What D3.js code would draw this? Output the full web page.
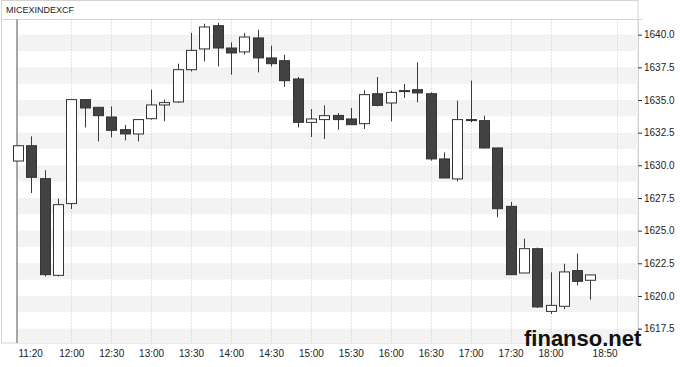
<!DOCTYPE html>
<html>
<head>
<meta charset="utf-8">
<script src="https://cdn.jsdelivr.net/npm/d3@7"></script>
<style>
  body { margin: 0; background: #fff; }
  text { font-family: "Liberation Sans", Arial, sans-serif; }
</style>
</head>
<body>
<div id="chart"></div>
<script>
// 10-minute candles, MICEXINDEXCF
let times = ["11:20","11:30","11:40","11:50","12:00","12:10","12:20","12:30","12:40","12:50",
  "13:00","13:10","13:20","13:30","13:40","13:50","14:00","14:10","14:20","14:30",
  "14:40","14:50","15:00","15:10","15:20","15:30","15:40","15:50","16:00","16:10",
  "16:20","16:30","16:40","16:50","17:00","17:10","17:20","17:30","17:40","17:50",
  "18:00","18:10","18:20","18:30"];
let opens = [1630.33,1631.5,1628.98,1621.58,1627.07,1635.03,1634.44,1633.7,1632.73,1632.4,
  1633.57,1634.62,1634.85,1637.32,1638.91,1640.69,1638.98,1638.68,1639.75,1638.22,
  1638.01,1636.61,1633.29,1633.5,1633.82,1633.55,1633.19,1635.48,1634.77,1635.7,
  1635.79,1635.48,1630.49,1628.96,1633.5,1633.42,1631.33,1626.86,1621.76,1623.62,
  1618.82,1619.21,1621.94,1621.2];
let highs = [1631.5,1632.22,1629.62,1627.45,1635.03,1635.03,1634.44,1634.51,1633.09,1633.5,
  1635.79,1635.03,1637.78,1640.13,1640.84,1640.9,1639.41,1640.13,1640.38,1639.16,
  1638.47,1636.76,1634.31,1634.59,1634.0,1634.39,1635.74,1636.76,1635.71,1636.23,
  1637.88,1635.58,1630.99,1634.95,1636.48,1633.8,1631.33,1627.2,1624.39,1623.7,
  1621.81,1622.47,1623.24,1621.61];
let lows = [1630.33,1627.88,1621.5,1621.5,1626.66,1632.9,1631.83,1632.14,1631.91,1631.83,
  1633.5,1633.37,1634.77,1637.19,1637.96,1637.57,1636.94,1638.47,1637.11,1637.57,
  1636.0,1632.9,1632.17,1632.02,1632.73,1633.11,1632.78,1634.51,1633.37,1635.16,
  1634.82,1630.36,1629.03,1628.77,1633.29,1631.3,1626.02,1621.63,1621.76,1619.08,
  1618.63,1619.0,1620.81,1619.72];
let closes = [1631.5,1629.08,1621.63,1626.99,1635.03,1634.39,1633.8,1632.68,1632.4,1633.5,
  1634.62,1634.8,1637.32,1638.8,1640.59,1638.98,1638.6,1639.82,1638.22,1637.78,
  1636.48,1633.29,1633.55,1633.8,1633.5,1633.11,1635.41,1634.59,1635.58,1635.72,
  1635.54,1630.49,1629.03,1633.5,1633.45,1631.33,1626.68,1621.63,1623.62,1619.16,
  1619.28,1621.84,1621.12,1621.61];
let timeTicks = ["11:20","12:00","12:30","13:00","13:30","14:00","14:30","15:00","15:30",
  "16:00","16:30","17:00","17:30","18:00","18:50"];
let priceTicks = [1617.5,1620,1622.5,1625,1627.5,1630,1632.5,1635,1637.5,1640];

let width = 680;
let height = 367;
let plotLeft = 17;
let plotRight = 638;
let plotTop = 19.5;
let plotBottom = 343;

let parseTime = d3.timeParse("%H:%M");
let formatTime = d3.timeFormat("%H:%M");

let svg = d3
  .select("#chart")
  .append("svg")
  .attr("width", width)
  .attr("height", height);

let candles = times.map(function(t, i) {
  return { time: parseTime(t), open: opens[i], high: highs[i], low: lows[i], close: closes[i] };
});

let xScale = d3
  .scaleTime()
  .domain([parseTime("11:20"), parseTime("18:50")])
  .range([18, 617.1]);

let yScale = d3
  .scaleLinear()
  .domain([1616.4, 1641.2])
  .range([plotBottom, plotTop - 0.5]);

// outer frame + title strip
svg.append("rect")
  .attr("x", 1.5).attr("y", 0.5)
  .attr("width", plotRight - 1.5).attr("height", plotBottom - 0.5)
  .attr("fill", "none").attr("stroke", "#d4d4d4");
svg.append("line")
  .attr("x1", 1.5).attr("x2", plotRight)
  .attr("y1", plotTop).attr("y2", plotTop)
  .attr("stroke", "#d4d4d4");

svg.append("text")
  .attr("x", 6).attr("y", 13)
  .attr("font-size", 9)
  .attr("fill", "#222")
  .text("MICEXINDEXCF");

// alternating bands
svg.append("g")
  .selectAll("rect")
  .data(priceTicks)
  .enter()
  .append("rect")
  .attr("x", plotLeft)
  .attr("width", plotRight - plotLeft)
  .attr("y", function(d) { return yScale(d); })
  .attr("height", function(d) { return Math.min(yScale(d - 1.25), plotBottom) - yScale(d); })
  .attr("fill", "#f3f3f3");

// vertical dotted grid
svg.append("g")
  .selectAll("line")
  .data(timeTicks.slice(1))
  .enter()
  .append("line")
  .attr("x1", function(d) { return Math.round(xScale(parseTime(d))) + 0.5; })
  .attr("x2", function(d) { return Math.round(xScale(parseTime(d))) + 0.5; })
  .attr("y1", plotTop)
  .attr("y2", plotBottom)
  .attr("stroke", "#c8c8c8")
  .attr("stroke-dasharray", "1,2");

// session start line
svg.append("line")
  .attr("x1", plotLeft).attr("x2", plotLeft)
  .attr("y1", plotTop).attr("y2", plotBottom)
  .attr("stroke", "#8a8a8a")
  .attr("stroke-width", 1.5);

// candles
let bodyW = 10;
let cg = svg.append("g").selectAll("g").data(candles).enter().append("g");

cg.append("line")
  .attr("x1", function(d) { return Math.round(xScale(d.time)) + 0.5; })
  .attr("x2", function(d) { return Math.round(xScale(d.time)) + 0.5; })
  .attr("y1", function(d) { return yScale(d.high); })
  .attr("y2", function(d) { return yScale(d.low); })
  .attr("stroke", "#3a3a3a");

cg.append("rect")
  .attr("x", function(d) { return Math.round(xScale(d.time)) - bodyW / 2 + 0.5; })
  .attr("width", bodyW)
  .attr("y", function(d) { return yScale(Math.max(d.open, d.close)); })
  .attr("height", function(d) {
    return Math.max(1, Math.abs(yScale(d.open) - yScale(d.close)));
  })
  .attr("fill", function(d) { return d.close > d.open ? "#fff" : "#424242"; })
  .attr("stroke", "#333")
  .attr("stroke-width", 1);

// y axis on the right
let yAxis = d3.axisRight(yScale)
  .tickValues(priceTicks)
  .tickSize(4)
  .tickPadding(2)
  .tickFormat(d3.format(".1f"));

let yG = svg.append("g")
  .attr("transform", "translate(" + plotRight + ",0)")
  .call(yAxis);
yG.select(".domain").attr("stroke", "#d4d4d4");
yG.selectAll(".tick line").attr("stroke", "#333");
yG.selectAll(".tick text")
  .attr("font-family", "Liberation Sans, Arial, sans-serif")
  .attr("font-size", 10)
  .attr("fill", "#222");

// x axis labels
let xAxis = d3.axisBottom(xScale)
  .tickValues(timeTicks.map(parseTime))
  .tickSize(0)
  .tickPadding(7)
  .tickFormat(formatTime);

let xG = svg.append("g")
  .attr("transform", "translate(0," + plotBottom + ")")
  .call(xAxis);
xG.select(".domain").remove();
xG.selectAll(".tick text")
  .attr("font-family", "Liberation Sans, Arial, sans-serif")
  .attr("font-size", 10)
  .attr("fill", "#222");
xG.selectAll(".tick text")
  .filter(function(d, i) { return i === 0; })
  .attr("text-anchor", "start");
xG.selectAll(".tick text")
  .filter(function(d, i) { return i === timeTicks.length - 1; })
  .attr("text-anchor", "end");

// watermark
svg.append("text")
  .attr("x", 524).attr("y", 346)
  .attr("font-family", "DejaVu Sans, sans-serif")
  .attr("font-weight", "bold")
  .attr("font-size", 22)
  .attr("fill", "#111")
  .text("finanso.net");
</script>
</body>
</html>
